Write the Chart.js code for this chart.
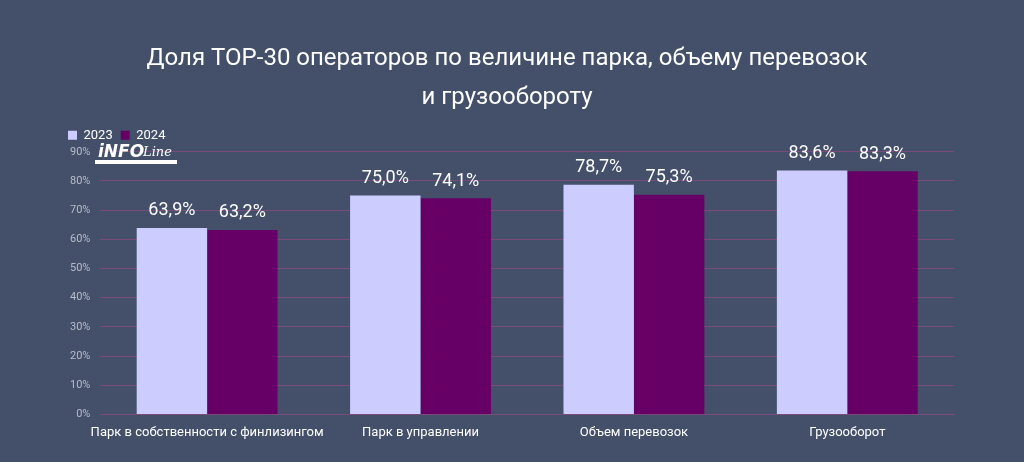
<!DOCTYPE html>
<html>
<head>
<meta charset="utf-8">
<script src="https://cdn.jsdelivr.net/npm/chart.js@4"></script>
<style>
html,body{margin:0;padding:0;background:#44506a;}
#wrap{width:1024px;height:462px;}
</style>
</head>
<body>
<div id="wrap"><canvas id="grafico"></canvas></div>
<script>
var categorie = ['Парк в собственности с финлизингом', 'Парк в управлении', 'Объем перевозок', 'Грузооборот'];
var valori2023 = [63.9, 75.0, 78.7, 83.6];
var valori2024 = [63.2, 74.1, 75.3, 83.3];

// etichette sopra le barre
var etichette = {
    id: 'etichette',
    afterDatasetsDraw: function(chart){
        var ctx = chart.ctx;
        ctx.save();
        ctx.fillStyle = '#ffffff';
        ctx.font = '18px Roboto';
        ctx.textAlign = 'center';
        ctx.textBaseline = 'bottom';
        chart.data.datasets.forEach(function(ds, i){
            chart.getDatasetMeta(i).data.forEach(function(bar, j){
                ctx.fillText(ds.data[j].toFixed(1).replace('.', ',') + '%', bar.x, bar.y - 8);
            });
        });
        // logo
        ctx.textAlign = 'left';
        ctx.font = 'bold italic 17px "DejaVu Sans"';
        ctx.fillText('iNFO', 98, 161);
        ctx.font = 'italic 13px "DejaVu Serif"';
        ctx.fillText('Line', 143, 159);
        ctx.fillRect(95, 160, 82, 4);
        ctx.restore();
    }
};

new Chart(document.getElementById('grafico'), {
    type: 'bar',
    data: {
        labels: categorie,
        datasets: [
            {label: '2023', data: valori2023, backgroundColor: '#ccccff', categoryPercentage: 0.66, barPercentage: 1},
            {label: '2024', data: valori2024, backgroundColor: '#660066', categoryPercentage: 0.66, barPercentage: 1}
        ]
    },
    options: {
        responsive: true,
        maintainAspectRatio: false,
        animation: false,
        layout: {padding: {left: 60, right: 70, top: 8, bottom: 18}},
        plugins: {
            title: {
                display: true,
                text: ['Доля TOP-30 операторов по величине парка, объему перевозок', 'и грузообороту'],
                color: '#ffffff',
                font: {family: 'Roboto', size: 24, weight: 'normal', lineHeight: 1.6},
                padding: {top: 32, bottom: 4}
            },
            legend: {
                align: 'start',
                labels: {color: '#ffffff', boxWidth: 9, boxHeight: 9, font: {family: 'Roboto', size: 13}, padding: 8}
            },
            tooltip: {enabled: false}
        },
        scales: {
            x: {
                grid: {display: false},
                border: {color: '#7a4a7a'},
                ticks: {color: '#ffffff', maxRotation: 0, autoSkip: false, font: {family: 'Roboto', size: 13}}
            },
            y: {
                min: 0, max: 90,
                ticks: {stepSize: 10, padding: 10, color: '#b8bcc8', font: {family: 'Roboto', size: 11}, callback: function(v){ return v + '%'; }},
                grid: {color: '#7a4a7a', drawTicks: false},
                border: {display: false}
            }
        }
    },
    plugins: [etichette]
});
</script>
</body>
</html>
